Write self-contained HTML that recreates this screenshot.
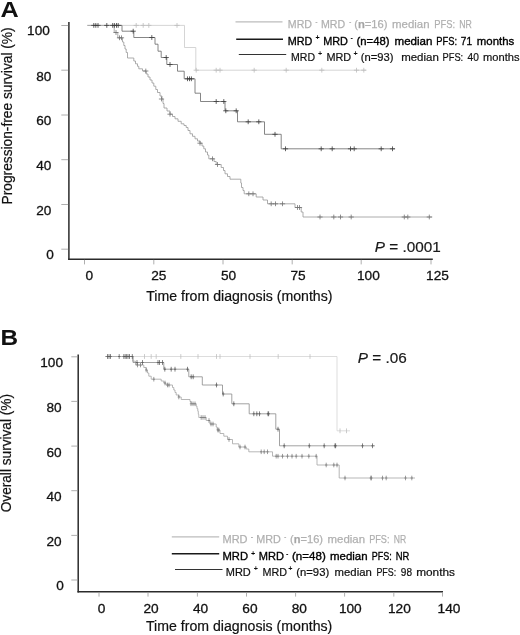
<!DOCTYPE html>
<html lang="en"><head><meta charset="utf-8"><title>Figure</title>
<style>html,body{margin:0;padding:0;background:#fff}body{width:520px;height:635px;overflow:hidden}svg{display:block;filter:blur(0.4px)}text{font-family:'Liberation Sans', Arial, Helvetica, sans-serif}</style></head><body>
<svg width="520" height="635" viewBox="0 0 520 635">
<rect width="520" height="635" fill="#fff"/>
<text x="0.4" y="17.3" font-size="22.8" font-weight="bold" fill="#111" textLength="18.2" lengthAdjust="spacingAndGlyphs">A</text>
<text x="0.6" y="345.2" font-size="22.8" font-weight="bold" fill="#111" textLength="17.6" lengthAdjust="spacingAndGlyphs">B</text>
<path d="M68.9,21.9V259.9" stroke="#2b2b2b" stroke-width="1.5" fill="none"/>
<path d="M68.2,259.2H432.8" stroke="#2b2b2b" stroke-width="1.4" fill="none"/>
<path d="M61.3,25.5H68.2M61.3,70.2H68.2M61.3,115H68.2M61.3,159.7H68.2M61.3,204.5H68.2M61.3,249.2H68.2" stroke="#9a9a9a" stroke-width="0.8" fill="none"/>
<path d="M84.5,259.8V264.4M153.8,259.8V264.4M223,259.8V264.4M292.2,259.8V264.4M361.2,259.8V264.4M431,259.8V264.4" stroke="#9a9a9a" stroke-width="0.8" fill="none"/>
<text x="49.8" y="35.3" font-size="13.6" fill="#111" stroke="#111" stroke-width="0.3" text-anchor="end">100</text>
<text x="51.4" y="80.6" font-size="13.6" fill="#111" stroke="#111" stroke-width="0.3" text-anchor="end">80</text>
<text x="51.4" y="125.4" font-size="13.6" fill="#111" stroke="#111" stroke-width="0.3" text-anchor="end">60</text>
<text x="51.4" y="170.1" font-size="13.6" fill="#111" stroke="#111" stroke-width="0.3" text-anchor="end">40</text>
<text x="51.4" y="214.9" font-size="13.6" fill="#111" stroke="#111" stroke-width="0.3" text-anchor="end">20</text>
<text x="53.7" y="259.0" font-size="13.6" fill="#111" stroke="#111" stroke-width="0.3" text-anchor="end">0</text>
<text x="89.2" y="280.3" font-size="13.7" fill="#111" stroke="#111" stroke-width="0.3" text-anchor="middle">0</text>
<text x="158.8" y="280.3" font-size="13.7" fill="#111" stroke="#111" stroke-width="0.3" text-anchor="middle">25</text>
<text x="228.6" y="280.3" font-size="13.7" fill="#111" stroke="#111" stroke-width="0.3" text-anchor="middle">50</text>
<text x="298" y="280.3" font-size="13.7" fill="#111" stroke="#111" stroke-width="0.3" text-anchor="middle">75</text>
<text x="368.4" y="280.3" font-size="13.7" fill="#111" stroke="#111" stroke-width="0.3" text-anchor="middle">100</text>
<text x="437.5" y="280.3" font-size="13.7" fill="#111" stroke="#111" stroke-width="0.3" text-anchor="middle">125</text>
<text x="146.2" y="301.3" font-size="14" fill="#111" stroke="#111" stroke-width="0.2" textLength="186.3" lengthAdjust="spacingAndGlyphs">Time from diagnosis (months)</text>
<text transform="translate(12.3,204.4) rotate(-90)" font-size="14" fill="#111" stroke="#111" stroke-width="0.2" textLength="177" lengthAdjust="spacingAndGlyphs">Progression-free survival (%)</text>
<text x="374.8" y="251.9" font-size="15.3" fill="#1a1a1a" stroke="#1a1a1a" stroke-width="0.2"><tspan font-style="italic">P</tspan> = .0001</text>
<path d="M87.3,25.4H184.5V47.5H195.8V70.2H366.2" stroke="#cacaca" stroke-width="0.8" fill="none"/>
<path d="M136.2,23.0V27.8M133.6,25.4H138.8M143.2,23.0V27.8M140.6,25.4H145.8M148.8,23.0V27.8M146.2,25.4H151.4M177,23.0V27.8M174.4,25.4H179.6M196.2,67.8V72.6M193.6,70.2H198.8M216.2,67.8V72.6M213.6,70.2H218.8M220,67.8V72.6M217.4,70.2H222.6M254.2,67.8V72.6M251.6,70.2H256.8M286.2,67.8V72.6M283.6,70.2H288.8M321.8,67.8V72.6M319.2,70.2H324.4M356.5,67.8V72.6M353.9,70.2H359.1M363.8,67.8V72.6M361.2,70.2H366.4" stroke="#bcbcbc" stroke-width="0.8" fill="none"/>
<path d="M87.3,25.4H114.2V32.5H117.8V37.8H122.5V42H123.8V45.5H125V49H126.2V52.5H127.5V58H133.8V61H135.5V63.8H137.5V66.3H138.8V68.8H142.5V71H146.2V74H148V77H150V80H152V83H153.8V86.2H155.8V89.5H157.5V92.5H160V96H162V99H163V103.5H164V108H167V111H170V114.2H172.5V116.5H175V118.8H178V121.3H181.2V123.8H184V125.5H186.2V127.5H188V130.5H190V133.8H192.5V136.3H195V138.8H197.5V141H200V143.2H202V146H203.8V148.8H205.5V152H207.5V155H208.8V158.8H214V161.5H216.2V164.5H221.2V167.5H223.5V170.5H225V173.8H227.5V176.5H230V179.2H240.8V183H241.5V187.5H243V190.5H244.2V193.8H256.2V197H263V200H267.5V203.8H295V207.5H301.2V212H303V217H432.3" stroke="#989898" stroke-width="0.8" fill="none"/>
<path d="M116,30.1V34.9M113.4,32.5H118.6M119.5,35.4V40.2M116.9,37.8H122.1M121.5,35.4V40.2M118.9,37.8H124.1M145.8,68.6V73.4M143.2,71H148.4M161.5,96.6V101.4M158.9,99H164.1M170,111.8V116.6M167.4,114.2H172.6M200,140.8V145.6M197.4,143.2H202.6M212.5,156.4V161.2M209.9,158.8H215.1M217.5,162.1V166.9M214.9,164.5H220.1M248.8,191.4V196.2M246.2,193.8H251.4M253,191.4V196.2M250.4,193.8H255.6M271.2,201.4V206.2M268.6,203.8H273.8M275.5,201.4V206.2M272.9,203.8H278.1M282.5,201.4V206.2M279.9,203.8H285.1M297.5,205.1V209.9M294.9,207.5H300.1M299.5,205.1V209.9M296.9,207.5H302.1M320,214.6V219.4M317.4,217H322.6M333.8,214.6V219.4M331.2,217H336.4M340.5,214.6V219.4M337.9,217H343.1M351.2,214.6V219.4M348.6,217H353.8M404.3,214.6V219.4M401.7,217H406.9M407.8,214.6V219.4M405.2,217H410.4M429.3,214.6V219.4M426.7,217H431.9" stroke="#727272" stroke-width="0.8" fill="none"/>
<path d="M114,25.4H122V31.2H133.8V37.5H155V44.2H158V51.2H161.2V57.5H166.8V64.5H177.5V71.2H184.2V78.8H195V93.2H200.5V101.5H225V110.8H237.5V121.8H264.5V134.3H281.2V148.8H395" stroke="#676767" stroke-width="0.8" fill="none"/>
<path d="M93.8,23.0V27.8M91.2,25.4H96.4M95.8,23.0V27.8M93.2,25.4H98.4M98,23.0V27.8M95.4,25.4H100.6M106.8,23.0V27.8M104.2,25.4H109.4M112.7,23.0V27.8M110.1,25.4H115.3M114.4,23.0V27.8M111.8,25.4H117.0M116.5,23.0V27.8M113.9,25.4H119.1M118.2,23.0V27.8M115.6,25.4H120.8M133.2,28.8V33.6M130.6,31.2H135.8M151.8,35.1V39.9M149.2,37.5H154.4M166.2,55.1V59.9M163.6,57.5H168.8M170,62.1V66.9M167.4,64.5H172.6M187.5,76.4V81.2M184.9,78.8H190.1M189.5,76.4V81.2M186.9,78.8H192.1M191.4,76.4V81.2M188.8,78.8H194.0M216.2,99.1V103.9M213.6,101.5H218.8M223.8,99.1V103.9M221.2,101.5H226.4M225.8,108.4V113.2M223.2,110.8H228.4M236.2,108.4V113.2M233.6,110.8H238.8M248.2,119.4V124.2M245.6,121.8H250.8M258.8,119.4V124.2M256.2,121.8H261.4M275,131.9V136.7M272.4,134.3H277.6M285.5,146.4V151.2M282.9,148.8H288.1M321.2,146.4V151.2M318.6,148.8H323.8M332.2,146.4V151.2M329.6,148.8H334.8M350.5,146.4V151.2M347.9,148.8H353.1M354.2,146.4V151.2M351.6,148.8H356.8M381.2,146.4V151.2M378.6,148.8H383.8M392.5,146.4V151.2M389.9,148.8H395.1" stroke="#3c3c3c" stroke-width="0.8" fill="none"/>
<path d="M235.5,21.8H282.5" stroke="#bcbcbc" stroke-width="1.3"/>
<path d="M236.2,39.2H283" stroke="#1a1a1a" stroke-width="1.6"/>
<path d="M238.8,54.5H286.2" stroke="#333" stroke-width="1.1"/>
<text x="287.8" y="28.2" font-size="11.8" fill="#b0b0b0" textLength="24.2" lengthAdjust="spacingAndGlyphs" stroke="#b0b0b0" stroke-width="0.25">MRD</text>
<text x="316.5" y="23.9" font-size="7.2" fill="#b0b0b0" text-anchor="middle" font-weight="bold">-</text>
<text x="321" y="28.2" font-size="11.8" fill="#b0b0b0" textLength="24.2" lengthAdjust="spacingAndGlyphs" stroke="#b0b0b0" stroke-width="0.25">MRD</text>
<text x="350.2" y="23.9" font-size="7.2" fill="#b0b0b0" text-anchor="middle" font-weight="bold">-</text>
<text x="354.2" y="28.2" font-size="11.8" fill="#b0b0b0" stroke="#b0b0b0" stroke-width="0.25" textLength="33.3" lengthAdjust="spacingAndGlyphs">(<tspan font-weight="bold" fill="#a4a4a4">n</tspan>=16)</text>
<text x="392" y="28.2" font-size="11.8" fill="#b0b0b0" textLength="37.5" lengthAdjust="spacingAndGlyphs" stroke="#b0b0b0" stroke-width="0.25">median</text>
<text x="434.2" y="28.2" font-size="11.8" fill="#b0b0b0" textLength="20.8" lengthAdjust="spacingAndGlyphs" stroke="#b0b0b0" stroke-width="0.25">PFS:</text>
<text x="459.2" y="28.2" font-size="11.8" fill="#b0b0b0" textLength="12.6" lengthAdjust="spacingAndGlyphs" stroke="#b0b0b0" stroke-width="0.25">NR</text>
<text x="287.8" y="44.8" font-size="11.8" fill="#000" textLength="24.6" lengthAdjust="spacingAndGlyphs" stroke="#000" stroke-width="0.36">MRD</text>
<text x="317.5" y="40.0" font-size="7.2" fill="#000" text-anchor="middle" font-weight="bold">+</text>
<text x="323.2" y="44.8" font-size="11.8" fill="#000" textLength="24.8" lengthAdjust="spacingAndGlyphs" stroke="#000" stroke-width="0.36">MRD</text>
<text x="351.6" y="40.0" font-size="7.2" fill="#000" text-anchor="middle" font-weight="bold">-</text>
<text x="356.5" y="44.8" font-size="11.8" fill="#000" textLength="33.0" lengthAdjust="spacingAndGlyphs" stroke="#000" stroke-width="0.36">(n=48)</text>
<text x="394.5" y="44.8" font-size="11.8" fill="#000" textLength="38.0" lengthAdjust="spacingAndGlyphs" stroke="#000" stroke-width="0.36">median</text>
<text x="436.2" y="44.8" font-size="11.8" fill="#000" textLength="20.8" lengthAdjust="spacingAndGlyphs" stroke="#000" stroke-width="0.36">PFS:</text>
<text x="460.8" y="44.8" font-size="11.8" fill="#000" textLength="11.2" lengthAdjust="spacingAndGlyphs" stroke="#000" stroke-width="0.36">71</text>
<text x="476.8" y="44.8" font-size="11.8" fill="#000" textLength="37.4" lengthAdjust="spacingAndGlyphs" stroke="#000" stroke-width="0.36">months</text>
<text x="291" y="60.6" font-size="11.8" fill="#111" textLength="24" lengthAdjust="spacingAndGlyphs" stroke="#111" stroke-width="0.22">MRD</text>
<text x="320" y="55.800000000000004" font-size="7.2" fill="#111" text-anchor="middle" font-weight="bold">+</text>
<text x="326.5" y="60.6" font-size="11.8" fill="#111" textLength="24.7" lengthAdjust="spacingAndGlyphs" stroke="#111" stroke-width="0.22">MRD</text>
<text x="355.6" y="55.800000000000004" font-size="7.2" fill="#111" text-anchor="middle" font-weight="bold">+</text>
<text x="360.8" y="60.6" font-size="11.8" fill="#111" textLength="32.7" lengthAdjust="spacingAndGlyphs" stroke="#111" stroke-width="0.22">(n=93)</text>
<text x="401.2" y="60.6" font-size="11.8" fill="#111" textLength="37.6" lengthAdjust="spacingAndGlyphs" stroke="#111" stroke-width="0.22">median</text>
<text x="442.5" y="60.6" font-size="11.8" fill="#111" textLength="20.7" lengthAdjust="spacingAndGlyphs" stroke="#111" stroke-width="0.22">PFS:</text>
<text x="467.5" y="60.6" font-size="11.8" fill="#111" textLength="11.3" lengthAdjust="spacingAndGlyphs" stroke="#111" stroke-width="0.22">40</text>
<text x="483" y="60.6" font-size="11.8" fill="#111" textLength="36.5" lengthAdjust="spacingAndGlyphs" stroke="#111" stroke-width="0.22">months</text>
<path d="M78.2,354.5V592.4" stroke="#2b2b2b" stroke-width="1.5" fill="none"/>
<path d="M77.5,591.7H443" stroke="#2b2b2b" stroke-width="1.4" fill="none"/>
<path d="M71.3,356.8H77.5M71.3,401.4H77.5M71.3,446.1H77.5M71.3,490.7H77.5M71.3,535.4H77.5M71.3,580H77.5" stroke="#9a9a9a" stroke-width="0.8" fill="none"/>
<path d="M99,592.3V596.6M148,592.3V596.6M197.4,592.3V596.6M246.5,592.3V596.6M295.6,592.3V596.6M344.6,592.3V596.6M393.8,592.3V596.6M442.5,592.3V596.6" stroke="#9a9a9a" stroke-width="0.8" fill="none"/>
<text x="63.0" y="366.6" font-size="13.6" fill="#111" stroke="#111" stroke-width="0.3" text-anchor="end">100</text>
<text x="61.7" y="411.8" font-size="13.6" fill="#111" stroke="#111" stroke-width="0.3" text-anchor="end">80</text>
<text x="61.7" y="456.5" font-size="13.6" fill="#111" stroke="#111" stroke-width="0.3" text-anchor="end">60</text>
<text x="61.7" y="501.1" font-size="13.6" fill="#111" stroke="#111" stroke-width="0.3" text-anchor="end">40</text>
<text x="61.7" y="545.8" font-size="13.6" fill="#111" stroke="#111" stroke-width="0.3" text-anchor="end">20</text>
<text x="63.7" y="590.4" font-size="13.6" fill="#111" stroke="#111" stroke-width="0.3" text-anchor="end">0</text>
<text x="101.5" y="612.6" font-size="13.7" fill="#111" stroke="#111" stroke-width="0.3" text-anchor="middle">0</text>
<text x="151.1" y="612.6" font-size="13.7" fill="#111" stroke="#111" stroke-width="0.3" text-anchor="middle">20</text>
<text x="200.6" y="612.6" font-size="13.7" fill="#111" stroke="#111" stroke-width="0.3" text-anchor="middle">40</text>
<text x="249.9" y="612.6" font-size="13.7" fill="#111" stroke="#111" stroke-width="0.3" text-anchor="middle">60</text>
<text x="299.3" y="612.6" font-size="13.7" fill="#111" stroke="#111" stroke-width="0.3" text-anchor="middle">80</text>
<text x="350.3" y="612.6" font-size="13.7" fill="#111" stroke="#111" stroke-width="0.3" text-anchor="middle">100</text>
<text x="399.4" y="612.6" font-size="13.7" fill="#111" stroke="#111" stroke-width="0.3" text-anchor="middle">120</text>
<text x="449" y="612.6" font-size="13.7" fill="#111" stroke="#111" stroke-width="0.3" text-anchor="middle">140</text>
<text x="146" y="631.3" font-size="14" fill="#111" stroke="#111" stroke-width="0.2" textLength="186.3" lengthAdjust="spacingAndGlyphs">Time from diagnosis (months)</text>
<text transform="translate(11.2,512.3) rotate(-90)" font-size="14.2" fill="#111" stroke="#111" stroke-width="0.2" textLength="118.3" lengthAdjust="spacingAndGlyphs">Overall survival (%)</text>
<text x="357.8" y="362.5" font-size="15.3" fill="#1a1a1a" stroke="#1a1a1a" stroke-width="0.2"><tspan font-style="italic">P</tspan> = .06</text>
<path d="M105,356.5H337V430.8H350" stroke="#d4d4d4" stroke-width="0.8" fill="none"/>
<path d="M144.5,354.1V358.9M144.5,356.5H144.5M151.2,354.1V358.9M151.2,356.5H151.2M156.2,354.1V358.9M156.2,356.5H156.2M180.8,354.1V358.9M180.8,356.5H180.8M198,354.1V358.9M198,356.5H198M216.5,354.1V358.9M216.5,356.5H216.5M220,354.1V358.9M220,356.5H220M250,354.1V358.9M250,356.5H250M278.2,354.1V358.9M278.2,356.5H278.2M310,354.1V358.9M310,356.5H310M340,428.4V433.2M340,430.8H340M346.5,428.4V433.2M346.5,430.8H346.5" stroke="#bfbfbf" stroke-width="0.8" fill="none"/>
<path d="M105,356.5H132.8V361.2H135.5V365H143.8V367.5H146.2V370H147.5V373H148.8V376.2H151.2V379.2H161.2V381H163.8V383H166V385H172.5V387.5H173.8V390H175V392.5H176.2V395H178.8V397H181.2V399.5H190V401.5H191.2V403.8H196.2V406.2H197V408.7H197.8V411.2H198.3V414.3H198.8V417.5H206.2V420.5H210V424H216.2V427H217.2V430H220V433.5H223.8V436.2H227.5V439.5H232.5V443.8H238.8V447H246.2V449H248.8V451.8H272.5V456.2H317V465H339.2V478H415" stroke="#a4a4a4" stroke-width="0.8" fill="none"/>
<path d="M137.5,362.7V367.3M136.3,365H138.7M140.5,362.7V367.3M139.3,365H141.7M146.2,367.7V372.3M145.0,370H147.4M153.8,376.9V381.5M152.6,379.2H155.0M165,380.7V385.3M163.8,383H166.2M167.5,382.7V387.3M166.3,385H168.7M169,382.7V387.3M167.8,385H170.2M178.8,394.7V399.3M177.6,397H180.0M191,401.5V406.1M189.8,403.8H192.2M193,401.5V406.1M191.8,403.8H194.2M195,401.5V406.1M193.8,403.8H196.2M201.2,415.2V419.8M200.0,417.5H202.4M203,415.2V419.8M201.8,417.5H204.2M205,415.2V419.8M203.8,417.5H206.2M209,418.2V422.8M207.8,420.5H210.2M211,421.7V426.3M209.8,424H212.2M213,421.7V426.3M211.8,424H214.2M217.8,427.7V432.3M216.6,430H219.0M218.8,427.7V432.3M217.6,430H220.0M229,437.2V441.8M227.8,439.5H230.2M240,444.7V449.3M238.8,447H241.2M245,444.7V449.3M243.8,447H246.2M261.2,449.5V454.1M260.0,451.8H262.4M264.2,449.5V454.1M263.0,451.8H265.4M267.5,449.5V454.1M266.3,451.8H268.7M276.2,453.9V458.5M275.0,456.2H277.4M278,453.9V458.5M276.8,456.2H279.2M282.5,453.9V458.5M281.3,456.2H283.7M287.5,453.9V458.5M286.3,456.2H288.7M292,453.9V458.5M290.8,456.2H293.2M296.2,453.9V458.5M295.0,456.2H297.4M302,453.9V458.5M300.8,456.2H303.2M308.8,453.9V458.5M307.6,456.2H310.0M316.2,453.9V458.5M315.0,456.2H317.4M326.2,462.7V467.3M325.0,465H327.4M333.8,462.7V467.3M332.6,465H335.0M337,462.7V467.3M335.8,465H338.2M345,475.7V480.3M343.8,478H346.2M370.8,475.7V480.3M369.6,478H372.0M371.4,475.7V480.3M370.2,478H372.6M382.5,475.7V480.3M381.3,478H383.7M386.2,475.7V480.3M385.0,478H387.4M405.5,475.7V480.3M404.3,478H406.7M411.8,475.7V480.3M410.6,478H413.0" stroke="#7c7c7c" stroke-width="0.75" fill="none"/>
<path d="M130,356.5H133V362.5H163.8V369.2H188.8V376.8H202.3V385H222.5V394H231.8V403.8H249.2V413.8H275.8V429.2H279.5V445.8H375" stroke="#8a8a8a" stroke-width="0.8" fill="none"/>
<path d="M107.5,354.1V358.9M106.3,356.5H108.7M109,354.1V358.9M107.8,356.5H110.2M110.5,354.1V358.9M109.3,356.5H111.7M119.2,354.1V358.9M118.0,356.5H120.4M123.8,354.1V358.9M122.6,356.5H125.0M125.2,354.1V358.9M124.0,356.5H126.4M126.6,354.1V358.9M125.4,356.5H127.8M128,354.1V358.9M126.8,356.5H129.2M129.5,354.1V358.9M128.3,356.5H130.7M132.3,354.1V358.9M131.1,356.5H133.5M137,360.1V364.9M135.8,362.5H138.2M142.5,360.1V364.9M141.3,362.5H143.7M158,360.1V364.9M156.8,362.5H159.2M159.5,360.1V364.9M158.3,362.5H160.7M162.5,360.1V364.9M161.3,362.5H163.7M164.8,366.8V371.6M163.6,369.2H166.0M171.2,366.8V371.6M170.0,369.2H172.4M175,366.8V371.6M173.8,369.2H176.2M187.5,366.8V371.6M186.3,369.2H188.7M191.2,374.4V379.2M190.0,376.8H192.4M193.2,374.4V379.2M192.0,376.8H194.4M216.5,382.6V387.4M215.3,385H217.7M223.2,391.6V396.4M222.0,394H224.4M233.8,401.4V406.2M232.6,403.8H235.0M253.8,411.4V416.2M252.6,413.8H255.0M256.8,411.4V416.2M255.6,413.8H258.0M259.5,411.4V416.2M258.3,413.8H260.7M268,411.4V416.2M266.8,413.8H269.2M268.6,411.4V416.2M267.4,413.8H269.8M278,426.8V431.6M276.8,429.2H279.2M284.2,443.4V448.2M283.0,445.8H285.4M309.3,443.4V448.2M308.1,445.8H310.5M324.2,443.4V448.2M323.0,445.8H325.4M335,443.4V448.2M333.8,445.8H336.2M335.6,443.4V448.2M334.4,445.8H336.8M362.5,443.4V448.2M361.3,445.8H363.7M372.5,443.4V448.2M371.3,445.8H373.7" stroke="#585858" stroke-width="0.75" fill="none"/>
<path d="M171.8,536.8H219.2" stroke="#bcbcbc" stroke-width="1.3"/>
<path d="M171.8,553.8H219.2" stroke="#1a1a1a" stroke-width="1.6"/>
<path d="M175,569.5H222.5" stroke="#333" stroke-width="1.1"/>
<text x="222.5" y="542.8" font-size="11.8" fill="#b0b0b0" textLength="25.0" lengthAdjust="spacingAndGlyphs" stroke="#b0b0b0" stroke-width="0.25">MRD</text>
<text x="252" y="538.5" font-size="7.2" fill="#b0b0b0" text-anchor="middle" font-weight="bold">-</text>
<text x="256.2" y="542.8" font-size="11.8" fill="#b0b0b0" textLength="24.6" lengthAdjust="spacingAndGlyphs" stroke="#b0b0b0" stroke-width="0.25">MRD</text>
<text x="285.3" y="538.5" font-size="7.2" fill="#b0b0b0" text-anchor="middle" font-weight="bold">-</text>
<text x="290" y="542.8" font-size="11.8" fill="#b0b0b0" stroke="#b0b0b0" stroke-width="0.25" textLength="33" lengthAdjust="spacingAndGlyphs">(<tspan font-weight="bold" fill="#a4a4a4">n</tspan>=16)</text>
<text x="327.5" y="542.8" font-size="11.8" fill="#b0b0b0" textLength="37.5" lengthAdjust="spacingAndGlyphs" stroke="#b0b0b0" stroke-width="0.25">median</text>
<text x="369.2" y="542.8" font-size="11.8" fill="#b0b0b0" textLength="20.3" lengthAdjust="spacingAndGlyphs" stroke="#b0b0b0" stroke-width="0.25">PFS:</text>
<text x="393.8" y="542.8" font-size="11.8" fill="#b0b0b0" textLength="12.4" lengthAdjust="spacingAndGlyphs" stroke="#b0b0b0" stroke-width="0.25">NR</text>
<text x="222.5" y="560.3" font-size="11.8" fill="#000" textLength="25.5" lengthAdjust="spacingAndGlyphs" stroke="#000" stroke-width="0.36">MRD</text>
<text x="253" y="555.5" font-size="7.2" fill="#000" text-anchor="middle" font-weight="bold">+</text>
<text x="258.8" y="560.3" font-size="11.8" fill="#000" textLength="25.2" lengthAdjust="spacingAndGlyphs" stroke="#000" stroke-width="0.36">MRD</text>
<text x="287.3" y="555.5" font-size="7.2" fill="#000" text-anchor="middle" font-weight="bold">-</text>
<text x="292" y="560.3" font-size="11.8" fill="#000" textLength="33.8" lengthAdjust="spacingAndGlyphs" stroke="#000" stroke-width="0.36">(n=48)</text>
<text x="330" y="560.3" font-size="11.8" fill="#000" textLength="37.6" lengthAdjust="spacingAndGlyphs" stroke="#000" stroke-width="0.36">median</text>
<text x="371.8" y="560.3" font-size="11.8" fill="#000" textLength="20.0" lengthAdjust="spacingAndGlyphs" stroke="#000" stroke-width="0.36">PFS:</text>
<text x="395.8" y="560.3" font-size="11.8" fill="#000" textLength="13.6" lengthAdjust="spacingAndGlyphs" stroke="#000" stroke-width="0.36">NR</text>
<text x="225.8" y="575.8" font-size="11.8" fill="#111" textLength="25.0" lengthAdjust="spacingAndGlyphs" stroke="#111" stroke-width="0.22">MRD</text>
<text x="255.8" y="571.0" font-size="7.2" fill="#111" text-anchor="middle" font-weight="bold">+</text>
<text x="262.5" y="575.8" font-size="11.8" fill="#111" textLength="24.5" lengthAdjust="spacingAndGlyphs" stroke="#111" stroke-width="0.22">MRD</text>
<text x="290.3" y="571.0" font-size="7.2" fill="#111" text-anchor="middle" font-weight="bold">+</text>
<text x="296.2" y="575.8" font-size="11.8" fill="#111" textLength="33.0" lengthAdjust="spacingAndGlyphs" stroke="#111" stroke-width="0.22">(n=93)</text>
<text x="334.6" y="575.8" font-size="11.8" fill="#111" textLength="37.2" lengthAdjust="spacingAndGlyphs" stroke="#111" stroke-width="0.22">median</text>
<text x="376.4" y="575.8" font-size="11.8" fill="#111" textLength="19.8" lengthAdjust="spacingAndGlyphs" stroke="#111" stroke-width="0.22">PFS:</text>
<text x="400.8" y="575.8" font-size="11.8" fill="#111" textLength="11.2" lengthAdjust="spacingAndGlyphs" stroke="#111" stroke-width="0.22">98</text>
<text x="416.2" y="575.8" font-size="11.8" fill="#111" textLength="38.8" lengthAdjust="spacingAndGlyphs" stroke="#111" stroke-width="0.22">months</text>
</svg></body></html>
